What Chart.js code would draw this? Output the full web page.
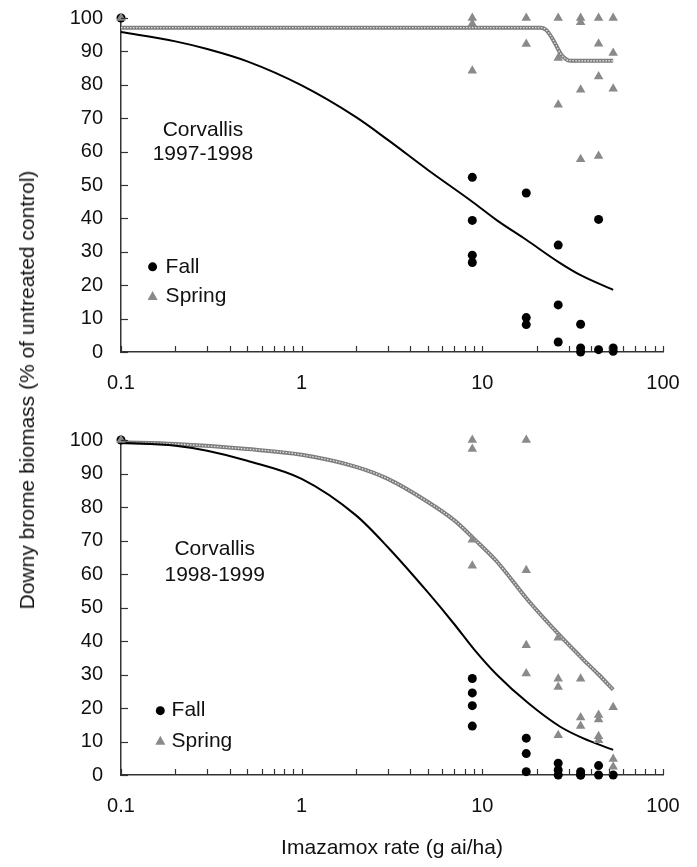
<!DOCTYPE html>
<html>
<head>
<meta charset="utf-8">
<script src="https://cdn.jsdelivr.net/npm/chart.js@4/dist/chart.umd.min.js"></script>
<style>
html,body{margin:0;padding:0;background:#fff;}
#wrap{position:relative;width:697px;height:867px;overflow:hidden;background:#fff;}
#c1{position:absolute;left:0;top:0;}
#c2{position:absolute;left:0;top:400px;}
#ytitle{position:absolute;left:27px;top:390px;transform:translate(-50%,-50%) rotate(-90deg);white-space:nowrap;font-family:"Liberation Sans",Arial,sans-serif;font-size:21px;color:#111;}
</style>
</head>
<body>
<div id="wrap">
<canvas id="c1" width="697" height="400"></canvas>
<canvas id="c2" width="697" height="467"></canvas>
<div id="ytitle">Downy brome biomass (% of untreated control)</div>
</div>
<script>
// ---------- tick labels ----------
const xTickValues = [0.1, 1, 10, 100];
const xTickLabels = ['0.1', '1', '10', '100'];
const yTickStep = 10;

// ---------- Corvallis 1997-1998 ----------
const fall9798X = [0.1, 8.8, 8.8, 8.8, 8.8, 17.5, 17.5, 17.5, 26.3, 26.3, 26.3, 35, 35, 35, 44, 44, 53, 53];
const fall9798Y = [100, 52.3, 39.4, 29, 26.8, 47.6, 10.3, 8.2, 32, 14.1, 3, 8.3, 1.2, 0, 39.7, 0.7, 1.2, 0.2];
const spring9798X = [0.1, 8.8, 8.8, 8.8, 17.5, 17.5, 26.3, 26.3, 26.3, 35, 35, 35, 35, 44, 44, 44, 44, 53, 53, 53];
const spring9798Y = [100, 100, 98.3, 84.2, 100, 92.2, 100, 88, 74, 100, 98.7, 78.5, 57.7, 100, 92.3, 82.5, 58.7, 100, 89.5, 78.8];
const fallFit9798X = [0.1, 0.2, 0.3, 0.5, 1, 2, 3, 5, 8.8, 12, 17.5, 26.3, 35, 53];
const fallFit9798Y = [95.8, 93, 90.7, 87, 79.8, 70.3, 63.5, 54.5, 45, 39.5, 33.6, 27, 23, 18.6];
const springFit9798X = [0.1, 1, 10, 21, 22.5, 24, 25.5, 27, 28.5, 30, 35, 53];
const springFit9798Y = [97.1, 97.1, 97.1, 97.1, 96.5, 94.5, 92, 89.5, 88, 87.3, 87.2, 87.2];

// ---------- Corvallis 1998-1999 ----------
const fall9899X = [0.1, 8.8, 8.8, 8.8, 8.8, 17.5, 17.5, 17.5, 26.3, 26.3, 26.3, 35, 35, 35, 44, 44, 53];
const fall9899Y = [100, 28.8, 24.5, 20.7, 14.6, 11, 6.4, 1, 3.5, 1.5, 0, 1, 0, 0, 2.8, 0, 0];
const spring9899X = [0.1, 8.8, 8.8, 8.8, 8.8, 17.5, 17.5, 17.5, 17.5, 26.3, 26.3, 26.3, 26.3, 35, 35, 35, 44, 44, 44, 44, 53, 53, 53];
const spring9899Y = [100, 100, 97.3, 70.2, 62.5, 100, 61.1, 38.7, 30.3, 41, 28.7, 26.3, 11.9, 28.7, 17.2, 14.6, 17.9, 16.6, 11.6, 10.4, 20.2, 4.8, 2.5];
const fallFit9899X = [0.1, 0.2, 0.3, 0.5, 1, 2, 3, 5, 7, 9, 12, 18, 27, 36, 53];
const fallFit9899Y = [99.2, 98.3, 96.8, 93.8, 88.4, 77.5, 68, 54.5, 45, 37.5, 30, 21.4, 14.4, 11, 7.5];
const springFit9899X = [0.1, 0.2, 0.5, 1, 2, 3, 5, 7, 9, 12, 18, 27, 36, 44, 53];
const springFit9899Y = [99.3, 98.8, 97.3, 95.6, 92, 88.4, 81.5, 76, 70.5, 63.8, 52, 41.5, 34.6, 30, 25.5];

// ---------- helpers ----------
Chart.defaults.font.family = '"Liberation Sans", Arial, sans-serif';
Chart.defaults.color = '#111';

function zip(xs, ys) { return xs.map((x, i) => ({x: x, y: ys[i]})); }

function allLogTicks() {
  const out = [];
  for (let d = 0; d < xTickValues.length - 1; d++) {
    for (let k = 1; k < 10; k++) out.push(+(xTickValues[d] * k).toPrecision(4));
  }
  out.push(xTickValues[xTickValues.length - 1]);
  return out;
}

const AXIS_COLOR = '#333';
const SPRING_COLOR = '#8a8a8a';

function panelPlugin(p) {
  return {
    id: 'panelDecor',
    afterDraw(chart) {
      const ctx = chart.ctx, xs = chart.scales.x, ys = chart.scales.y;
      ctx.save();
      // inward tick marks
      ctx.strokeStyle = AXIS_COLOR; ctx.lineWidth = 1.2;
      xs.ticks.forEach(t => {
        const px = Math.round(xs.getPixelForValue(t.value)) + 0.5;
        ctx.beginPath(); ctx.moveTo(px, ys.bottom); ctx.lineTo(px, ys.bottom - 6); ctx.stroke();
      });
      ys.ticks.forEach(t => {
        const py = Math.round(ys.getPixelForValue(t.value)) + 0.5;
        ctx.beginPath(); ctx.moveTo(xs.left, py); ctx.lineTo(xs.left + 7, py); ctx.stroke();
      });
      // site annotation
      ctx.fillStyle = '#111';
      ctx.font = '21px "Liberation Sans", Arial, sans-serif';
      ctx.textAlign = 'center'; ctx.textBaseline = 'middle';
      const ax = xs.getPixelForValue(p.noteX);
      ctx.fillText(p.note[0], ax, ys.getPixelForValue(p.noteY[0]));
      ctx.fillText(p.note[1], ax, ys.getPixelForValue(p.noteY[1]));
      // legend
      const mx = xs.getPixelForValue(p.legMarkX), tx = xs.getPixelForValue(p.legTextX);
      const fy = ys.getPixelForValue(p.legY[0]), sy = ys.getPixelForValue(p.legY[1]);
      ctx.fillStyle = '#000';
      ctx.beginPath(); ctx.arc(mx, fy, 4.5, 0, Math.PI * 2); ctx.fill();
      ctx.fillStyle = SPRING_COLOR;
      ctx.beginPath(); ctx.moveTo(mx, sy - 5); ctx.lineTo(mx + 5, sy + 4); ctx.lineTo(mx - 5, sy + 4); ctx.closePath(); ctx.fill();
      ctx.fillStyle = '#111'; ctx.textAlign = 'left';
      ctx.fillText('Fall', tx, fy);
      ctx.fillText('Spring', tx, sy);
      ctx.restore();
    }
  };
}

function makeChart(canvas, d, p) {
  const chart = new Chart(canvas, {
    type: 'scatter',
    data: {
      datasets: [
        {label: 'Spring', data: zip(d.springX, d.springY), pointStyle: 'triangle', pointRadius: 5.5,
         backgroundColor: SPRING_COLOR, borderWidth: 0, order: 0, clip: false},
        {label: 'Fall', data: zip(d.fallX, d.fallY), pointStyle: 'circle', pointRadius: 4.5,
         backgroundColor: '#000', borderWidth: 0, order: 1, clip: false},
        {label: 'Fall fit', data: zip(d.fallFitX, d.fallFitY), showLine: true, pointRadius: 0,
         borderColor: '#000', borderWidth: 2, cubicInterpolationMode: 'monotone', order: 2, clip: false},
        {label: 'Spring fit texture', data: zip(d.springFitX, d.springFitY), showLine: true, pointRadius: 0,
         borderColor: '#e4e4e4', borderWidth: 1.3, borderDash: [1.5, 1.5], cubicInterpolationMode: 'monotone', order: 3, clip: false},
        {label: 'Spring fit', data: zip(d.springFitX, d.springFitY), showLine: true, pointRadius: 0,
         borderColor: '#7d7d7d', borderWidth: 4, cubicInterpolationMode: 'monotone', order: 4, clip: false}
      ]
    },
    options: {
      responsive: false, animation: false, events: [],
      layout: {padding: {top: p.area.top, right: 697 - p.area.right, left: 0, bottom: 0}},
      plugins: {legend: {display: false}, tooltip: {enabled: false}},
      scales: {
        x: {
          type: 'logarithmic', min: 0.1, max: 100,
          grid: {display: false, drawTicks: false},
          border: {display: true, color: AXIS_COLOR, width: 1.5},
          afterBuildTicks: s => { s.ticks = allLogTicks().map(v => ({value: v})); },
          afterFit: s => { s.height = p.xHeight; s.paddingLeft = 0; s.paddingRight = 0; },
          ticks: {
            autoSkip: false, maxRotation: 0, minRotation: 0, padding: 19, color: '#111',
            font: {size: 20},
            callback: v => {
              const i = xTickValues.findIndex(t => Math.abs(t - v) < 1e-9);
              return i >= 0 ? xTickLabels[i] : '';
            }
          },
          title: p.xTitle ? {display: true, text: p.xTitle, font: {size: 21}, color: '#111', padding: {top: 0, bottom: 6}} : {display: false}
        },
        y: {
          min: 0, max: 100,
          grid: {display: false, drawTicks: false},
          border: {display: true, color: AXIS_COLOR, width: 1.5},
          afterFit: s => { s.width = p.area.left; s.paddingTop = 0; s.paddingBottom = 0; },
          ticks: {stepSize: yTickStep, padding: 18, color: '#111', font: {size: 20}}
        }
      }
    },
    plugins: [panelPlugin(p)]
  });
  // nudge the layout padding so that the plot area lands where the reference has it
  for (let k = 0; k < 3; k++) {
    const ca = chart.chartArea, pad = chart.options.layout.padding;
    const dt = p.area.top - ca.top, dr = ca.right - p.area.right;
    if (Math.abs(dt) < 0.5 && Math.abs(dr) < 0.5) break;
    pad.top += dt; pad.right += dr;
    chart.update();
  }
  return chart;
}

makeChart(document.getElementById('c1'),
  {fallX: fall9798X, fallY: fall9798Y, springX: spring9798X, springY: spring9798Y,
   fallFitX: fallFit9798X, fallFitY: fallFit9798Y, springFitX: springFit9798X, springFitY: springFit9798Y},
  {area: {left: 121, right: 663, top: 18}, xHeight: 48, xTitle: null,
   note: ['Corvallis', '1997-1998'], noteX: 0.284, noteY: [66.5, 59.3],
   legMarkX: 0.1496, legTextX: 0.1766, legY: [25.5, 16.8]});

makeChart(document.getElementById('c2'),
  {fallX: fall9899X, fallY: fall9899Y, springX: spring9899X, springY: spring9899Y,
   fallFitX: fallFit9899X, fallFitY: fallFit9899Y, springFitX: springFit9899X, springFitY: springFit9899Y},
  {area: {left: 121, right: 663, top: 40}, xHeight: 92, xTitle: 'Imazamox rate (g ai/ha)',
   note: ['Corvallis', '1998-1999'], noteX: 0.330, noteY: [67.5, 59.7],
   legMarkX: 0.165, legTextX: 0.1905, legY: [19.2, 10.2]});
</script>
</body>
</html>
